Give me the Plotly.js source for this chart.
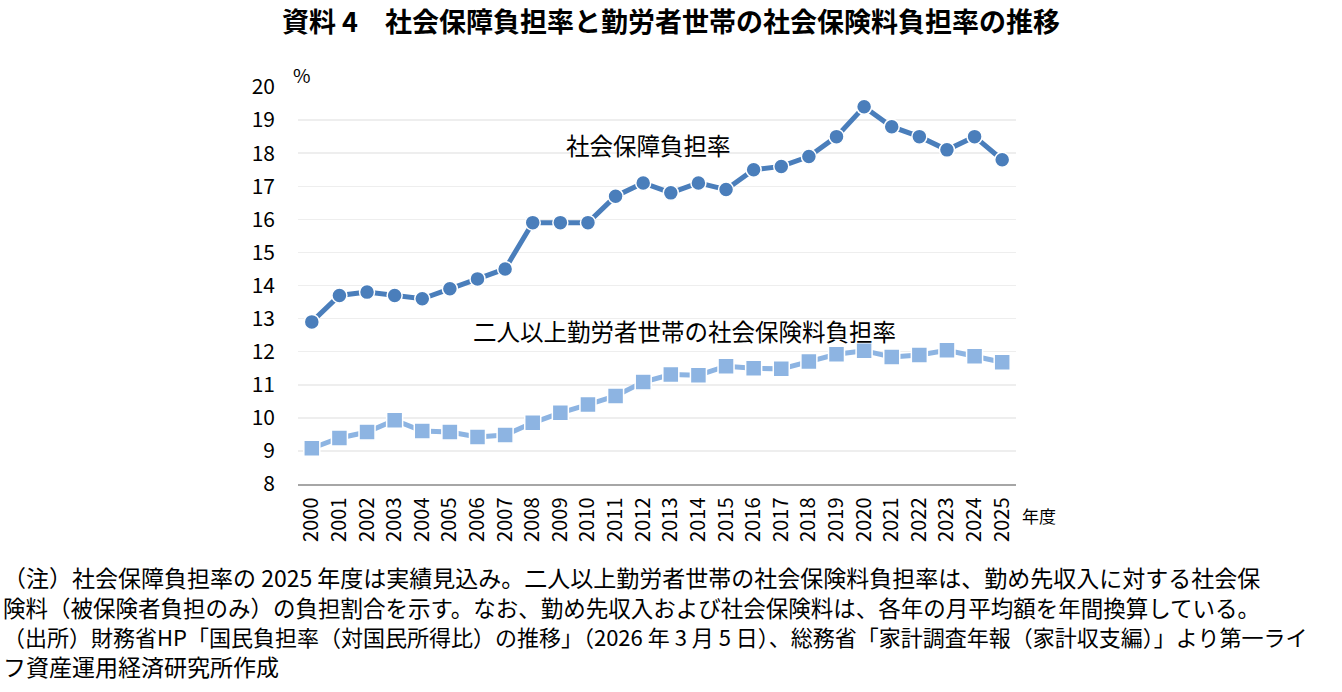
<!DOCTYPE html>
<html>
<head>
<meta charset="utf-8">
<script src="https://cdn.plot.ly/plotly-3.0.1.min.js"></script>
<style>
  html, body { margin: 0; padding: 0; background: #fff; }
  #chart { width: 1342px; height: 692px; }
</style>
</head>
<body>
<div id="chart"></div>
<script>
  var years = ['2000', '2001', '2002', '2003', '2004', '2005', '2006', '2007', '2008', '2009',
               '2010', '2011', '2012', '2013', '2014', '2015', '2016', '2017', '2018', '2019',
               '2020', '2021', '2022', '2023', '2024', '2025'];
  var socialBurden = [12.9, 13.7, 13.8, 13.7, 13.6, 13.9, 14.2, 14.5, 15.9, 15.9,
                      15.9, 16.7, 17.1, 16.8, 17.1, 16.9, 17.5, 17.6, 17.9, 18.5,
                      19.4, 18.8, 18.5, 18.1, 18.5, 17.8];
  var insuranceBurden = [9.08, 9.39, 9.57, 9.93, 9.6, 9.57, 9.42, 9.48, 9.85, 10.15,
                         10.4, 10.66, 11.08, 11.31, 11.29, 11.56, 11.5, 11.48, 11.7, 11.92,
                         12.03, 11.84, 11.9, 12.04, 11.86, 11.68];
  var seriesNames = ['社会保障負担率', '二人以上勤労者世帯の社会保険料負担率'];
  var titleText = '資料 4　社会保障負担率と勤労者世帯の社会保険料負担率の推移';
  var noteLines = [
    '（注）社会保障負担率の 2025 年度は実績見込み。二人以上勤労者世帯の社会保険料負担率は、勤め先収入に対する社会保',
    '険料（被保険者負担のみ）の負担割合を示す。なお、勤め先収入および社会保険料は、各年の月平均額を年間換算している。',
    '（出所）財務省HP「国民負担率（対国民所得比）の推移」（2026 年 3 月 5 日）、総務省「家計調査年報（家計収支編）」より第一ライ',
    'フ資産運用経済研究所作成'
  ];
  var noteSizes = [23, 22.5, 22, 23];

  var W = 1342, H = 692;
  var M = { l: 298, r: 326, t: 87, b: 208 };
  var PW = W - M.l - M.r, PH = H - M.t - M.b;
  function px(x) { return (x - M.l) / PW; }
  function py(y) { return (H - M.b - y) / PH; }

  var jp = '"Noto Sans CJK JP", "Noto Sans", sans-serif';

  var data = [
    {
      x: years, y: socialBurden, name: seriesNames[0],
      type: 'scatter', mode: 'lines+markers',
      line: { color: '#4a7ebb', width: 5 },
      marker: { symbol: 'circle', size: 15, color: '#4a7ebb', line: { color: '#fff', width: 1.5 } }
    },
    {
      x: years, y: insuranceBurden, name: seriesNames[1],
      type: 'scatter', mode: 'lines+markers',
      line: { color: '#8db4e2', width: 5 },
      marker: { symbol: 'square', size: 16, color: '#8db4e2', line: { color: '#fff', width: 1.5 } }
    }
  ];

  var annotations = [
    { x: 12.2, y: 18.25, xref: 'x', yref: 'y', text: seriesNames[0], showarrow: false,
      xanchor: 'center', yanchor: 'middle',
      font: { family: jp, size: 23.5, color: '#000' } },
    { x: 13.5, y: 12.62, xref: 'x', yref: 'y', text: seriesNames[1], showarrow: false,
      xanchor: 'center', yanchor: 'middle',
      font: { family: jp, size: 23.5, color: '#000' } },
    { x: px(302), y: py(75), xref: 'paper', yref: 'paper', text: '%', showarrow: false,
      xanchor: 'center', yanchor: 'middle',
      font: { family: jp, size: 19, color: '#000' } },
    { x: px(1039), y: py(515), xref: 'paper', yref: 'paper', text: '年度', showarrow: false,
      xanchor: 'center', yanchor: 'middle',
      font: { family: jp, size: 17, color: '#000' } }
  ];
  noteLines.forEach(function(t, i) {
    annotations.push({
      x: px(1), y: py(577 + i * 29.6), xref: 'paper', yref: 'paper',
      xanchor: 'left', yanchor: 'middle', text: t, showarrow: false,
      font: { family: jp, size: noteSizes[i], color: '#000' }
    });
  });

  var layout = {
    width: W, height: H,
    paper_bgcolor: '#fff', plot_bgcolor: '#fff',
    margin: M,
    showlegend: false,
    font: { family: jp, color: '#000' },
    title: {
      text: titleText, x: 0.5, xanchor: 'center', y: 1 - 23 / H, yanchor: 'middle',
      font: { family: jp, size: 27, color: '#000', weight: 'bold' }
    },
    xaxis: {
      type: 'category', range: [-0.5, 25.5],
      showgrid: false, zeroline: false,
      showline: true, linecolor: '#a6a6a6', linewidth: 1.5,
      ticks: '', tickangle: -90, ticklabelstandoff: 4,
      tickfont: { family: jp, size: 20, color: '#000' }
    },
    yaxis: {
      range: [8, 20], dtick: 1, tick0: 8,
      showgrid: true, gridcolor: '#eeeeee', gridwidth: 1.5,
      zeroline: false, showline: false, ticks: '',
      ticklabelstandoff: 22,
      tickfont: { family: jp, size: 21, color: '#000' }
    },
    annotations: annotations
  };

  Plotly.newPlot('chart', data, layout, { displayModeBar: false, staticPlot: true });
</script>
</body>
</html>
